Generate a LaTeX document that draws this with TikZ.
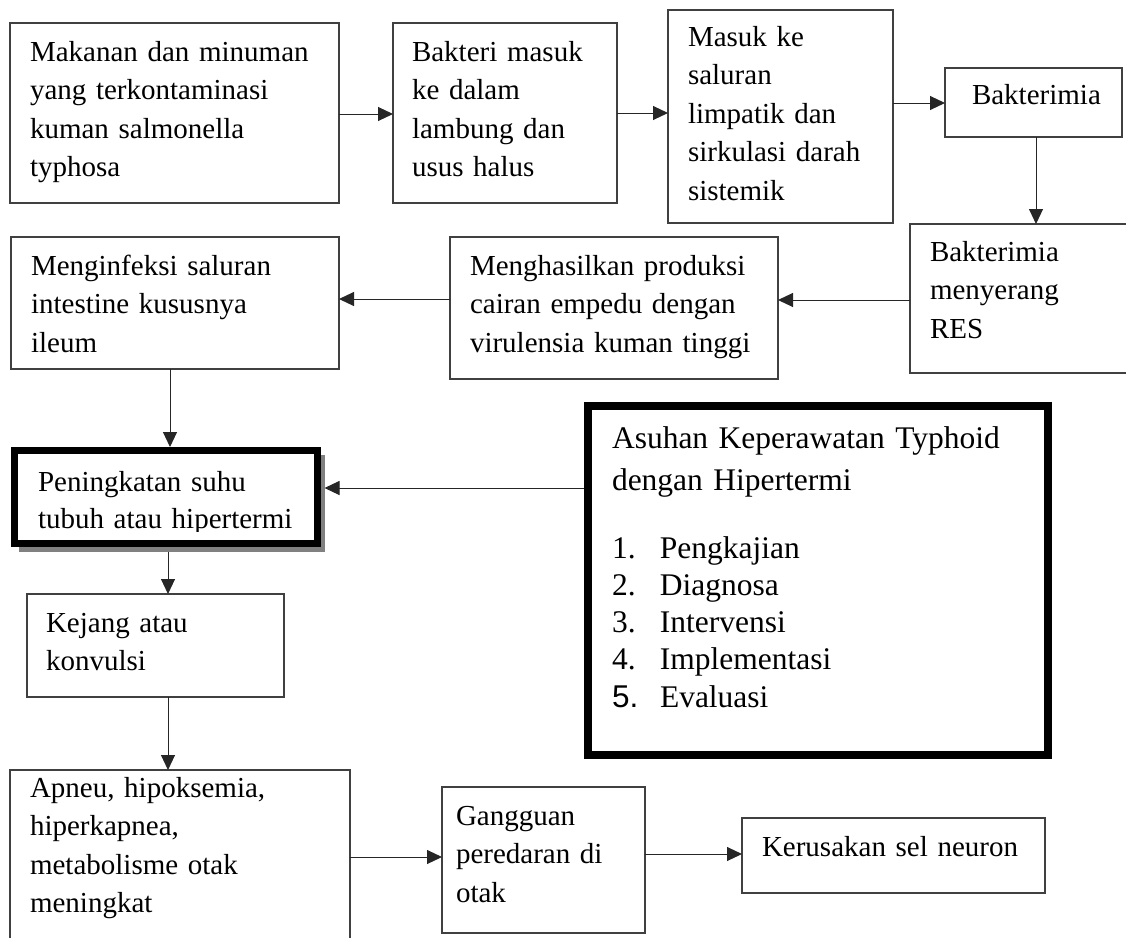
\documentclass[tikz,border=0pt]{standalone}
\usepackage{fontspec}
\setmainfont{Liberation Serif}
\newfontfamily\arialf{Liberation Sans}
\usetikzlibrary{arrows.meta}
\begin{document}
\begin{tikzpicture}[x=1pt,y=-1pt,
  box/.style={draw=black!75, line width=1.2pt, rectangle, inner sep=0pt, outer sep=0pt, anchor=north west},
  heavybox/.style={draw=black, fill=white, rectangle, inner sep=0pt, outer sep=0pt, anchor=north west},
  txt/.style={anchor=base west, inner sep=0pt, outer sep=0pt, align=left, text width=600pt, font=\fontsize{29}{38.5}\selectfont},
  arr/.style={draw=black!85, line width=1pt, -{Triangle[length=15pt,width=14pt]}},
]
\useasboundingbox (0,0) rectangle (1126,937);
\clip (0,0) rectangle (1126,937);

% boxes
\node[box, minimum width=329pt, minimum height=180pt] (b1) at (10,23) {};
\node[box, minimum width=224pt, minimum height=180pt] (b2) at (393,23) {};
\node[box, minimum width=225pt, minimum height=213pt] (b3) at (668,10) {};
\node[box, minimum width=177pt, minimum height=69pt] (b4) at (945,68) {};
\node[box, minimum width=230pt, minimum height=149pt] (b5) at (910,224) {};
\node[box, minimum width=328pt, minimum height=142pt] (b6) at (450,237) {};
\node[box, minimum width=328pt, minimum height=132pt] (b7) at (11,237) {};
\fill[black!50] (19,455) rectangle (325,552);
\node[heavybox, line width=7pt, minimum width=303pt, minimum height=93pt] (b8) at (14.5,450.5) {};
\node[heavybox, line width=8pt, minimum width=460pt, minimum height=349pt] (b9) at (587.5,406) {};
\node[box, minimum width=257pt, minimum height=103pt] (b10) at (27,594) {};
\node[box, minimum width=340pt, minimum height=200pt] (b11) at (10,770) {};
\node[box, minimum width=203pt, minimum height=146pt] (b12) at (442,787) {};
\node[box, minimum width=303pt, minimum height=75pt] (b13) at (742,818) {};

% texts
\node[txt] (t1) at (30,61) {Makanan dan minuman\\yang terkontaminasi\\kuman salmonella\\typhosa};
\node[txt] (t2) at (412,61) {Bakteri masuk\\ke dalam\\lambung dan\\usus halus};
\node[txt] (t3) at (688,46) {Masuk ke\\saluran\\limpatik dan\\sirkulasi darah\\sistemik};
\node[txt] (t4) at (972,104) {Bakterimia};
\node[txt] (t5) at (930,261) {Bakterimia\\menyerang\\RES};
\node[txt] (t6) at (470,275) {Menghasilkan produksi\\cairan empedu dengan\\virulensia kuman tinggi};
\node[txt] (t7) at (31,275) {Menginfeksi saluran\\intestine kususnya\\ileum};
\begin{scope}
\clip (14.5,450.5) rectangle (318,531);
\node[txt, font=\fontsize{29}{37}\selectfont] (t8) at (38,491) {Peningkatan suhu\\tubuh atau hipertermi};
\end{scope}
\node[txt, font=\fontsize{31.5}{42}\selectfont] (t9a) at (612,448) {Asuhan Keperawatan Typhoid\\dengan Hipertermi};
\node[txt, font=\fontsize{31.5}{37.3}\selectfont] (t9b) at (612,558) {\makebox[48pt][l]{1.}Pengkajian\\\makebox[48pt][l]{2.}Diagnosa\\\makebox[48pt][l]{3.}Intervensi\\\makebox[48pt][l]{4.}Implementasi\\\makebox[48pt][l]{\arialf 5.}Evaluasi};
\node[txt] (t10) at (46,632) {Kejang atau\\konvulsi};
\node[txt] (t11) at (30,797) {Apneu, hipoksemia,\\hiperkapnea,\\metabolisme otak\\meningkat};
\node[txt] (t12) at (456,825) {Gangguan\\peredaran di\\otak};
\node[txt] (t13) at (762,856) {Kerusakan sel neuron};

% connectors
\coordinate (p12) at ([yshift=-1pt]b1.east);
\draw[arr] (p12) -- (p12 -| b2.west);
\coordinate (p23) at (b2.east);
\draw[arr] (p23) -- (p23 -| b3.west);
\coordinate (p34) at ([yshift=-0.5pt]b4.west);
\draw[arr] (p34 -| b3.east) -- (p34);
\coordinate (p45) at ([xshift=2.5pt]b4.south);
\draw[arr] (p45) -- (p45 |- b5.north);
\coordinate (p56) at ([yshift=8pt]b6.east);
\draw[arr] (p56 -| b5.west) -- (p56);
\coordinate (p67) at ([yshift=4pt]b7.east);
\draw[arr] (p67 -| b6.west) -- (p67);
\coordinate (p78) at ([xshift=-5pt]b7.south);
\draw[arr] (p78) -- ([yshift=3.5pt]p78 |- b8.north);
\coordinate (p98) at ([xshift=7pt,yshift=9pt]b8.east);
\draw[arr] ([xshift=-4pt]p98 -| b9.west) -- (p98);
\coordinate (p810) at ([xshift=12.5pt]b10.north);
\draw[arr] ([yshift=-8.5pt]p810 |- b8.south) -- (p810);
\coordinate (p1011) at ([xshift=12.5pt]b10.south);
\draw[arr] (p1011) -- (p1011 |- b11.north);
\coordinate (p1112) at ([yshift=3pt]b12.west);
\draw[arr] (p1112 -| b11.east) -- (p1112);
\coordinate (p1213) at ([yshift=1.5pt]b13.west);
\draw[arr] (p1213 -| b12.east) -- (p1213);
\end{tikzpicture}
\end{document}
